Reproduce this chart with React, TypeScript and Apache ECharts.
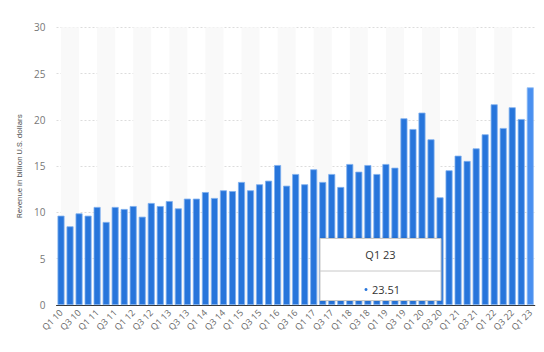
import React, { useEffect, useRef } from "react";
import * as echarts from "echarts";

const years = ["10","11","12","13","14","15","16","17","18","19","20","21","22","23"];
const categories: string[] = [];
years.forEach((y) => {
  ["Q1", "Q2", "Q3", "Q4"].forEach((q) => {
    if (y === "23" && q !== "Q1") return;
    categories.push(`${q} ${y}`);
  });
});

const revenue = [
  9.65, 8.5, 9.9, 9.65, 10.59, 8.97, 10.59, 10.37, 10.69, 9.54,
  11.02, 10.69, 11.23, 10.44, 11.49, 11.49, 12.2, 11.56, 12.39, 12.31,
  13.29, 12.39, 13.04, 13.43, 15.12, 12.89, 14.15, 13.04, 14.66, 13.29,
  14.15, 12.75, 15.23, 14.4, 15.12, 14.15, 15.23, 14.83, 20.17, 19.01,
  20.78, 17.9, 11.63, 14.55, 16.13, 15.56, 16.92, 18.44, 21.68, 19.12,
  21.36, 20.09, 23.51,
];

const yTicks = { min: 0, max: 30, interval: 5 };
const yTitle = "Revenue in billion U.S. dollars";
const highlightIndex = revenue.length - 1;

export default function App() {
  const ref = useRef<HTMLDivElement>(null);
  useEffect(() => {
    if (!ref.current) return;
    const chart = echarts.init(ref.current, undefined, { renderer: "svg" });
    const font = "'Open Sans', sans-serif";
    chart.setOption({
      animation: false,
      textStyle: { fontFamily: font },
      grid: { left: 56.5, right: 9.2, top: 27.3, bottom: 47, containLabel: false },
      xAxis: {
        type: "category",
        data: categories,
        axisTick: { show: false },
        axisLine: { lineStyle: { color: "#333", width: 1 } },
        axisLabel: {
          interval: 1,
          rotate: 45,
          fontSize: 9,
          color: "#666",
          margin: 6,
          fontFamily: font,
        },
        splitArea: {
          show: true,
          interval: 1,
          alignWithLabel: true,
          areaStyle: { color: ["#f9f9f9", "rgba(255,255,255,0)"] },
        },
      },
      yAxis: {
        type: "value",
        min: yTicks.min,
        max: yTicks.max,
        interval: yTicks.interval,
        name: yTitle,
        nameLocation: "middle",
        nameGap: 33,
        nameTextStyle: { fontSize: 8, color: "#555", fontFamily: "Roboto, sans-serif" },
        axisLine: { show: false },
        axisTick: { show: false },
        axisLabel: { fontSize: 10, color: "#777", margin: 11, fontFamily: font },
        splitLine: { lineStyle: { type: [2, 2], color: "#dcdcdc" } },
      },
      series: [
        {
          type: "bar",
          barWidth: 7,
          z: 2,
          data: revenue.map((v, i) =>
            i === highlightIndex
              ? { value: v, itemStyle: { color: "#4a90f0", borderColor: "#8fbcf5" } }
              : v
          ),
          itemStyle: { color: "#2775db", borderColor: "#7fb0ef", borderWidth: 0.8 },
        },
      ],
      graphic: [
        {
          type: "rect",
          z: 100,
          shape: { x: 320, y: 238.5, width: 121, height: 62 },
          style: {
            fill: "#fff",
            stroke: "#c8c8c8",
            lineWidth: 1,
            shadowBlur: 3,
            shadowColor: "rgba(0,0,0,0.15)",
          },
        },
        {
          type: "line",
          z: 101,
          shape: { x1: 320, y1: 271, x2: 441, y2: 271 },
          style: { stroke: "#c8c8c8", lineWidth: 1 },
        },
        {
          type: "text",
          z: 101,
          x: 380.5,
          y: 254,
          style: {
            text: categories[highlightIndex],
            fontSize: 11,
            fontWeight: 500,
            fill: "#333",
            align: "center",
            verticalAlign: "middle",
            fontFamily: font,
          },
        },
        {
          type: "circle",
          z: 101,
          shape: { cx: 366, cy: 289.5, r: 1.5 },
          style: { fill: "#2775db" },
        },
        {
          type: "text",
          z: 101,
          x: 372,
          y: 289.5,
          style: {
            text: revenue[highlightIndex].toFixed(2),
            fontSize: 11,
            fill: "#333",
            align: "left",
            verticalAlign: "middle",
            fontFamily: font,
          },
        },
      ],
    });
    return () => chart.dispose();
  }, []);
  return (
    <div
      ref={ref}
      style={{ position: "absolute", left: 0, top: 0, width: 544, height: 352 }}
    />
  );
}
